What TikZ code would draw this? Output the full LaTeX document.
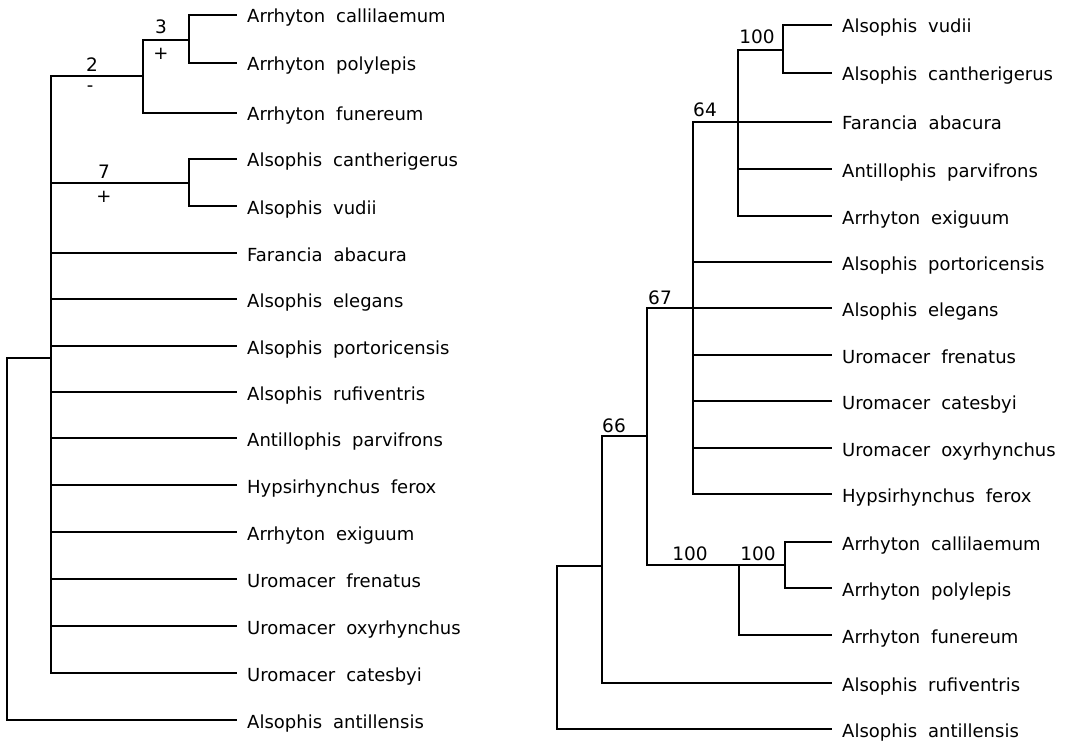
\documentclass[tikz,border=0pt]{standalone}
\usepackage{fontspec}
\setmainfont{DejaVu Sans}
\newcommand{\taxon}[2]{#1\hspace{11pt}#2}
\begin{document}
\begin{tikzpicture}[x=1pt,y=-1pt,
  branch/.style={line width=2.2pt,line cap=rect},
  tip/.style={anchor=west,inner xsep=11pt,inner ysep=0pt,text height=16pt,text depth=0pt,
    font=\fontsize{18}{20}\selectfont},
  support/.style={anchor=base,inner sep=0pt,font=\fontsize{18.5}{20}\selectfont},
  sign/.style={anchor=center,inner sep=0pt,font=\fontsize{18}{20}\selectfont}]
\useasboundingbox (0,0) rectangle (1068,741);

% ---------------- strict consensus (left) ----------------
\coordinate (Lr)  at (7,358);
\coordinate (Lp)  at (51,358);
\coordinate (L2)  at (143,76);
\coordinate (L3)  at (189,40);
\coordinate (L7)  at (189,183);

\node[tip] (Lt1)  at (236,15)  {\taxon{Arrhyton}{callilaemum}};
\node[tip] (Lt2)  at (236,63)  {\taxon{Arrhyton}{polylepis}};
\node[tip] (Lt3)  at (236,113) {\taxon{Arrhyton}{funereum}};
\node[tip] (Lt4)  at (236,159) {\taxon{Alsophis}{cantherigerus}};
\node[tip] (Lt5)  at (236,206) {\taxon{Alsophis}{vudii}};
\node[tip] (Lt6)  at (236,253) {\taxon{Farancia}{abacura}};
\node[tip] (Lt7)  at (236,299) {\taxon{Alsophis}{elegans}};
\node[tip] (Lt8)  at (236,346) {\taxon{Alsophis}{portoricensis}};
\node[tip] (Lt9)  at (236,392) {\taxon{Alsophis}{rufiventris}};
\node[tip] (Lt10) at (236,438) {\taxon{Antillophis}{parvifrons}};
\node[tip] (Lt11) at (236,485) {\taxon{Hypsirhynchus}{ferox}};
\node[tip] (Lt12) at (236,532) {\taxon{Arrhyton}{exiguum}};
\node[tip] (Lt13) at (236,579) {\taxon{Uromacer}{frenatus}};
\node[tip] (Lt14) at (236,626) {\taxon{Uromacer}{oxyrhynchus}};
\node[tip] (Lt15) at (236,673) {\taxon{Uromacer}{catesbyi}};
\node[tip] (Lt16) at (236,720) {\taxon{Alsophis}{antillensis}};

\draw[branch] (Lr) |- (Lp);
\draw[branch] (Lr) |- (Lt16.west);
\draw[branch] (Lp) |- (L2);
\draw[branch] (Lp) |- (L7);
\foreach \t in {6,...,15} \draw[branch] (Lp) |- (Lt\t.west);
\draw[branch] (L2) |- (L3);
\draw[branch] (L2) |- (Lt3.west);
\draw[branch] (L3) |- (Lt1.west);
\draw[branch] (L3) |- (Lt2.west);
\draw[branch] (L7) |- (Lt4.west);
\draw[branch] (L7) |- (Lt5.west);

\node[support] (Ln3) at (161,34)  {3};
\node[sign]    (Ls3) at (161,54)  {+};
\node[support] (Ln2) at (92,72)   {2};
\node[sign]    (Ls2) at (90,89)   {-};
\node[support] (Ln7) at (104,178) {7};
\node[sign]    (Ls7) at (104,197) {+};

% ---------------- bootstrap tree (right) ----------------
\coordinate (Rr)   at (557,566);
\coordinate (R66)  at (602,566);
\coordinate (R67)  at (647,436);
\coordinate (Rp)   at (693,308);
\coordinate (R64)  at (738,122);
\coordinate (R100) at (783,50);
\coordinate (Ra)   at (739,565);
\coordinate (Rb)   at (785,565);

\node[tip] (Rt1)  at (831,25)  {\taxon{Alsophis}{vudii}};
\node[tip] (Rt2)  at (831,73)  {\taxon{Alsophis}{cantherigerus}};
\node[tip] (Rt3)  at (831,122) {\taxon{Farancia}{abacura}};
\node[tip] (Rt4)  at (831,169) {\taxon{Antillophis}{parvifrons}};
\node[tip] (Rt5)  at (831,216) {\taxon{Arrhyton}{exiguum}};
\node[tip] (Rt6)  at (831,262) {\taxon{Alsophis}{portoricensis}};
\node[tip] (Rt7)  at (831,308) {\taxon{Alsophis}{elegans}};
\node[tip] (Rt8)  at (831,355) {\taxon{Uromacer}{frenatus}};
\node[tip] (Rt9)  at (831,401) {\taxon{Uromacer}{catesbyi}};
\node[tip] (Rt10) at (831,448) {\taxon{Uromacer}{oxyrhynchus}};
\node[tip] (Rt11) at (831,494) {\taxon{Hypsirhynchus}{ferox}};
\node[tip] (Rt12) at (831,542) {\taxon{Arrhyton}{callilaemum}};
\node[tip] (Rt13) at (831,588) {\taxon{Arrhyton}{polylepis}};
\node[tip] (Rt14) at (831,635) {\taxon{Arrhyton}{funereum}};
\node[tip] (Rt15) at (831,683) {\taxon{Alsophis}{rufiventris}};
\node[tip] (Rt16) at (831,729) {\taxon{Alsophis}{antillensis}};

\draw[branch] (Rr) |- (R66);
\draw[branch] (Rr) |- (Rt16.west);
\draw[branch] (R66) |- (R67);
\draw[branch] (R66) |- (Rt15.west);
\draw[branch] (R67) |- (Rp);
\draw[branch] (R67) |- (Ra);
\draw[branch] (Rp) |- (R64);
\foreach \t in {6,...,11} \draw[branch] (Rp) |- (Rt\t.west);
\draw[branch] (R64) |- (R100);
\foreach \t in {3,4,5} \draw[branch] (R64) |- (Rt\t.west);
\draw[branch] (R100) |- (Rt1.west);
\draw[branch] (R100) |- (Rt2.west);
\draw[branch] (Ra) |- (Rb);
\draw[branch] (Ra) |- (Rt14.west);
\draw[branch] (Rb) |- (Rt12.west);
\draw[branch] (Rb) |- (Rt13.west);

\node[support] (Rn100a) at (757,44)  {100};
\node[support] (Rn64)   at (705,117) {64};
\node[support] (Rn67)   at (660,304) {67};
\node[support] (Rn66)   at (614,432) {66};
\node[support] (Rn100b) at (690,560) {100};
\node[support] (Rn100c) at (758,560) {100};
\end{tikzpicture}
\end{document}
